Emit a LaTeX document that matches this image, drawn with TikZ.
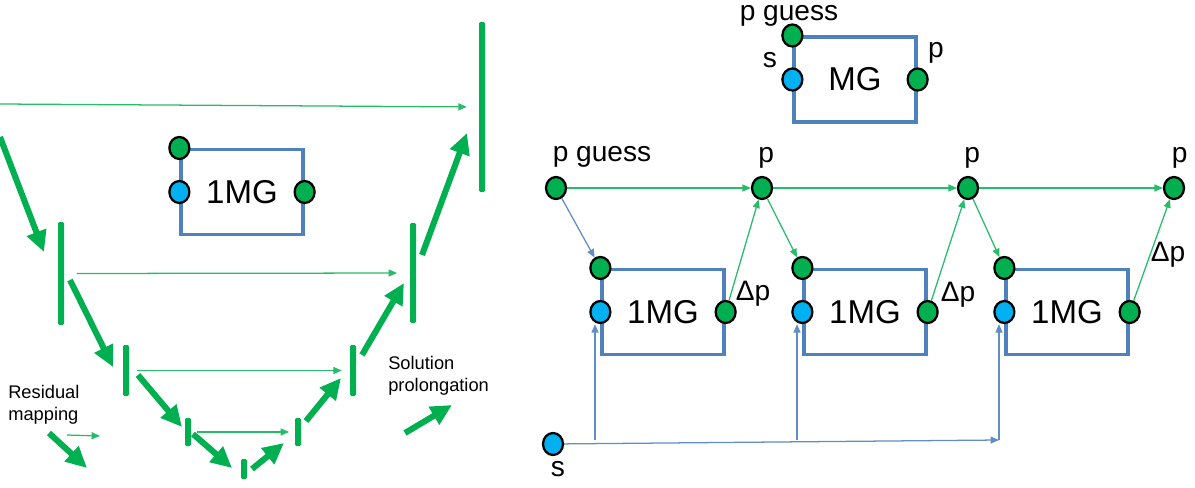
\documentclass[tikz,border=0pt]{standalone}
\usepackage{fontspec}
\setmainfont{Liberation Sans}
\usetikzlibrary{arrows.meta,positioning,shapes.geometric}

\definecolor{mggreen}{HTML}{00B050}
\definecolor{mgblue}{HTML}{00B0F0}
\definecolor{mgframe}{HTML}{4F81BD}

\tikzset{
  gdot/.style={ellipse, draw=black, line width=1.6pt, fill=mggreen, inner sep=0pt,
    minimum width=0.5cm, minimum height=0.55cm},
  bdot/.style={gdot, fill=mgblue},
  mgbox/.style={draw=mgframe, line width=2.3pt, minimum width=3.05cm, minimum height=2.12cm,
    inner sep=0pt, font=\fontsize{23.5}{28}\selectfont},
  lbl/.style={inner sep=0pt, font=\fontsize{20}{24}\selectfont},
  notetext/.style={inner sep=0pt, align=left, font=\fontsize{13}{16}\selectfont},
  vbar/.style={fill=mggreen, rounded corners=1pt, inner sep=0pt, minimum width=0.15cm,
    minimum height=#1*0.025cm},
  fat/.style={draw=mggreen, line width=4.3pt, -{Triangle[length=15pt,width=14pt]}},
  pass/.style={draw=mggreen!85, line width=0.9pt, -{Triangle[length=6pt,width=5pt]}},
  feed/.style={draw=mgframe!90, line width=0.9pt, -{Triangle[length=6pt,width=5pt]}},
}

\begin{document}
\begin{tikzpicture}[x=0.025cm,y=-0.025cm]
    \useasboundingbox (0,0) rectangle (1195,487);

    % V-cycle levels
    \node[vbar=170] (v1) at (482,107) {};
    \node[vbar=103] (v2) at (61,273.5) {};
    \node[vbar=51] (v3) at (126,370.5) {};
    \node[vbar=28] (v4) at (188,432) {};
    \node[vbar=20] (v5) at (244,469) {};
    \node[vbar=28] (v6) at (298,432) {};
    \node[vbar=51] (v7) at (353,370.5) {};
    \node[vbar=100] (v8) at (413,273) {};
    \coordinate (in0) at (0,104);
    \coordinate (in1) at (0,137);

    % Residual mapping (down)
    \draw[fat] (in1) -- ([shift={(-17,-21.5)}]v2.center);
    \draw[fat] ([shift={(9,6.5)}]v2.center) -- ([shift={(-13,-3.5)}]v3.center);
    \draw[fat] ([shift={(12,4.5)}]v3.center) -- ([shift={(-6,-5)}]v4.center);
    \draw[fat] ([shift={(5,2)}]v4.center) -- ([shift={(-12,-1)}]v5.center);
    % Solution prolongation (up)
    \draw[fat] ([shift={(8,0)}]v5.center) -- ([shift={(-14,11)}]v6.center);
    \draw[fat] ([shift={(8,-11)}]v6.center) -- ([shift={(-12,7.5)}]v7.center);
    \draw[fat] ([shift={(9,-15.5)}]v7.center) -- ([shift={(-9,10)}]v8.center);
    \draw[fat] ([shift={(9,-18)}]v8.center) -- ([shift={(-15,26)}]v1.center);

    % Passes across
    \draw[pass, shorten >=8.5pt] (in0) -- (v1);
    \draw[pass, shorten <=9pt, shorten >=9pt] (v2) -- (v8);
    \draw[pass, shorten <=5.7pt, shorten >=5.7pt] (v3) -- (v7);
    \draw[pass, shorten <=4.3pt, shorten >=4pt] (v4) -- (v6);

    % Legend
    \node[notetext, anchor=west] (rm) at (8,405) {Residual\\mapping};
    \coordinate (rm1) at (49,433);
    \coordinate (rm2) at (87,468);
    \coordinate (rm3) at (67,435);
    \coordinate (rm4) at (100,436);
    \draw[fat] (rm1) -- (rm2);
    \draw[pass] (rm3) -- (rm4);
    \node[notetext, anchor=west] (sp) at (388,376) {Solution\\prolongation};
    \coordinate (sp1) at (405,433);
    \coordinate (sp2) at (452,405);
    \draw[fat] (sp1) -- (sp2);

    % One cycle block
    \node[mgbox] (m0) at (242,192) {1MG};
    \node[gdot] (m0in) at (m0.north west) {};
    \node[bdot] (m0s) at (m0.west) {};
    \node[gdot] (m0out) at (m0.east) {};

    % Full MG block
    \node[mgbox] (mg) at (855,79.5) {MG};
    \node[gdot] (mgin) at (mg.north west) {};
    \node[bdot] (mgs) at (mg.west) {};
    \node[gdot] (mgout) at (mg.east) {};
    \node[lbl] (mginl) at (789,15.5) {p guess};
    \node[lbl] (mgsl) at (770,60) {s};
    \node[lbl] (mgoutl) at (936,53) {p};

    % Chain of cycles
    \node[gdot] (pg) at (556,188) {};
    \node[gdot] (p1) at (762,188) {};
    \node[gdot] (p2) at (968,188) {};
    \node[gdot] (p3) at (1174,188) {};
    \node[bdot] (s) at (553,444) {};
    \node[lbl] (pgl) at (602,157) {p guess};
    \node[lbl, above=5pt of p1, xshift=3pt] (p1l) {p};
    \node[lbl, above=5pt of p2, xshift=3pt] (p2l) {p};
    \node[lbl, above=5pt of p3, xshift=4pt] (p3l) {p};
    \node[lbl] (sl) at (558,469) {s};
    \foreach \i/\x in {1/663,2/865,3/1067} {
        \node[mgbox] (b\i) at (\x,312) {1MG};
        \node[gdot] (in\i) at (b\i.north west) {};
        \node[bdot] (s\i) at (b\i.west) {};
        \node[gdot] (out\i) at (b\i.east) {};
    }
    \node[lbl] (d1) at (753,294) {Δp};
    \node[lbl] (d2) at (958,295) {Δp};
    \node[lbl] (d3) at (1168,255) {Δp};

    \draw[pass] (pg) -- (p1);
    \draw[pass] (p1) -- (p2);
    \draw[pass] (p2) -- (p3);
    \draw[feed] (pg) -- (in1);
    \draw[pass] (out1) -- (p1);
    \draw[pass] (p1) -- (in2);
    \draw[pass] (out2) -- (p2);
    \draw[pass] (p2) -- (in3);
    \draw[pass] (out3) -- (p3);

    % s feeds every cycle
    \coordinate (t1) at (595,440);
    \coordinate (t2) at (797,440);
    \coordinate (t3) at (999,440);
    \draw[feed] (s) -- (t3);
    \draw[feed] (t1) -- (t1 |- s1.south);
    \draw[feed] (t2) -- (t2 |- s2.south);
    \draw[feed] (t3) -- (t3 |- s3.south);

\end{tikzpicture}
\end{document}
